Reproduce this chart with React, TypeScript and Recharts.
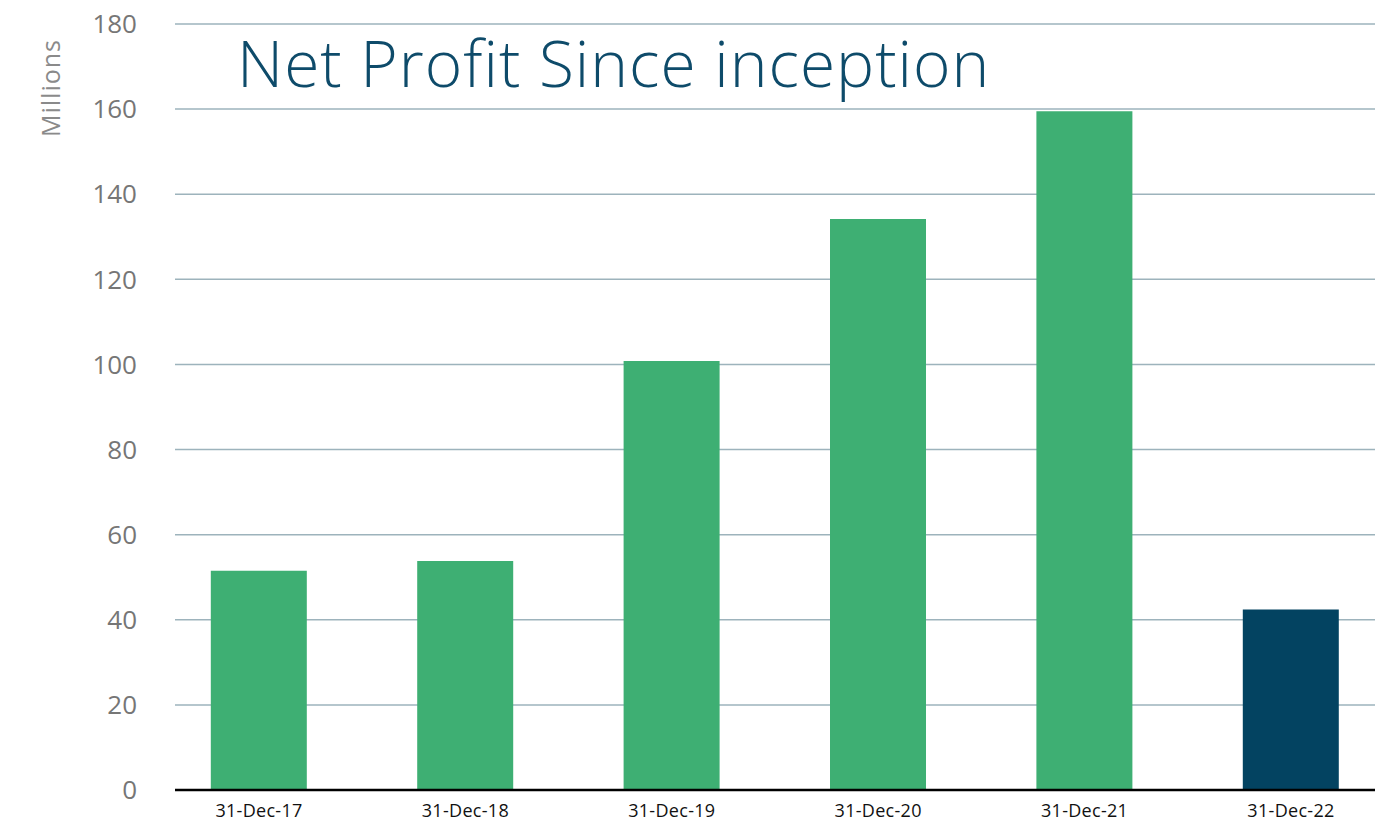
import { Bar, BarChart, CartesianGrid, Cell, XAxis, YAxis } from 'recharts';

const dates = ['31-Dec-17', '31-Dec-18', '31-Dec-19', '31-Dec-20', '31-Dec-21', '31-Dec-22'];
const netProfit = [51.5, 53.8, 100.8, 134.2, 159.5, 42.4];
const barColors = ['#3EAF73', '#3EAF73', '#3EAF73', '#3EAF73', '#3EAF73', '#034361'];
const yTicks = [0, 20, 40, 60, 80, 100, 120, 140, 160, 180];

const data = dates.map((d, i) => ({ idx: i, date: d, value: netProfit[i] }));

const FONT = '"Open Sans", sans-serif';

export default function App() {
  return (
    <div style={{ position: 'absolute', left: 0, top: 0, width: 1388, height: 822, background: '#fff' }}>
      <BarChart
        width={1388}
        height={822}
        data={data}
        margin={{ top: 24, right: 13, bottom: 0, left: 0 }}
      >
        <CartesianGrid vertical={false} stroke="#9DB3BC" strokeWidth={1.5} />
        <XAxis
          dataKey="idx"
          type="number"
          domain={[-0.407, 5.407]}
          allowDataOverflow
          ticks={[0, 1, 2, 3, 4, 5]}
          tickFormatter={(i: number) => dates[i] ?? ''}
          axisLine={{ stroke: '#000', strokeWidth: 2.5 }}
          tickLine={false}
          tickSize={0}
          tickMargin={14}
          height={32}
          tick={{ fill: '#111', fontSize: 18, fontFamily: FONT, letterSpacing: 0.3 }}
        />
        <YAxis
          domain={[0, 180]}
          ticks={yTicks}
          width={175}
          axisLine={false}
          tickLine={false}
          tickSize={0}
          tickMargin={38}
          tick={{ fill: '#767676', fontSize: 26, fontFamily: FONT }}
          label={{
            content: () => (
              <text
                x={50}
                y={88}
                transform="rotate(-90 50 88)"
                textAnchor="middle"
                dominantBaseline="central"
                fill="#8a8a8a"
                fontSize={25}
                letterSpacing={1}
                fontFamily={FONT}
              >
                Millions
              </text>
            ),
          }}
        />
        <Bar dataKey="value" barSize={96} isAnimationActive={false}>
          {data.map((d, i) => (
            <Cell key={d.date} fill={barColors[i]} />
          ))}
        </Bar>
      </BarChart>
      <div
        style={{
          position: 'absolute',
          left: 237,
          top: 25,
          fontFamily: FONT,
          fontWeight: 300,
          fontSize: 64,
          letterSpacing: 1,
          color: '#0E4B6A',
          whiteSpace: 'nowrap',
          lineHeight: 1.2,
        }}
      >
        Net Profit Since inception
      </div>
    </div>
  );
}
